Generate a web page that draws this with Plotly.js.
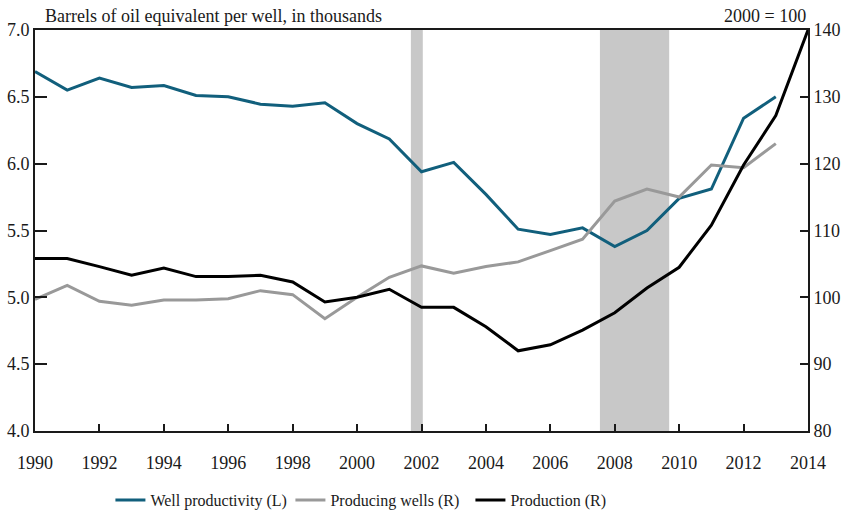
<!DOCTYPE html>
<html>
<head>
<meta charset="utf-8">
<script src="https://cdn.plot.ly/plotly-3.0.1.min.js"></script>
<style>html,body{margin:0;padding:0;background:#fff}#chart{width:856px;height:516px}</style>
</head>
<body>
<div id="chart"></div>
<script>
const years = [1990,1991,1992,1993,1994,1995,1996,1997,1998,1999,2000,2001,2002,2003,2004,2005,2006,2007,2008,2009,2010,2011,2012,2013,2014];
const wellProductivity = [6.69,6.55,6.64,6.57,6.585,6.51,6.50,6.445,6.43,6.455,6.30,6.185,5.94,6.01,5.77,5.51,5.47,5.52,5.38,5.50,5.74,5.81,6.34,6.50];
const producingWells = [99.7,101.8,99.4,98.8,99.6,99.6,99.8,101.0,100.4,96.8,100.0,103.0,104.7,103.6,104.6,105.3,107.0,108.7,114.4,116.2,115.0,119.8,119.4,123.0];
const production = [105.8,105.8,104.6,103.3,104.4,103.1,103.1,103.3,102.3,99.3,100.0,101.2,98.5,98.5,95.6,92.0,92.9,95.1,97.7,101.4,104.5,110.8,119.8,127.2,140.0];
const recessions = [[2001.67,2002.04],[2007.54,2009.69]];
const leftTicks = [4.0,4.5,5.0,5.5,6.0,6.5,7.0];
const rightTicks = [80,90,100,110,120,130,140];
const xTicks = [1990,1992,1994,1996,1998,2000,2002,2004,2006,2008,2010,2012,2014];

const font = "Liberation Serif, Times New Roman, serif";

const traces = [
  {x: years.slice(0, wellProductivity.length), y: wellProductivity, name: 'Well productivity (L)', type: 'scatter', mode: 'lines', yaxis: 'y', line: {color: '#115f7c', width: 3}},
  {x: years.slice(0, producingWells.length), y: producingWells, name: 'Producing wells (R)', type: 'scatter', mode: 'lines', yaxis: 'y2', line: {color: '#999999', width: 3}},
  {x: years.slice(0, production.length), y: production, name: 'Production (R)', type: 'scatter', mode: 'lines', yaxis: 'y2', line: {color: '#000000', width: 3}}
];

const shapes = recessions.map(r => ({type: 'rect', xref: 'x', yref: 'paper', x0: r[0], x1: r[1], y0: 0, y1: 1, fillcolor: '#c8c8c8', line: {width: 0}, layer: 'below'}));

const layout = {
  width: 856, height: 516,
  margin: {l: 35, r: 48, t: 30, b: 85},
  paper_bgcolor: '#fff', plot_bgcolor: '#fff',
  font: {family: font, size: 18, color: '#1a1a1a'},
  showlegend: true,
  legend: {orientation: 'h', xref: 'container', yref: 'container', x: 0.129, xanchor: 'left', y: 0.031, yanchor: 'middle', font: {family: font, size: 16}, entrywidth: 135, entrywidthmode: 'pixels', tracegroupgap: 0},
  xaxis: {range: [1990, 2014], tickvals: xTicks, ticktext: xTicks.map(String), ticks: 'inside', ticklen: 7, tickwidth: 2, tickcolor: '#1a1a1a', showline: true, linecolor: '#1a1a1a', linewidth: 2, mirror: true, showgrid: false, zeroline: false, ticklabelstandoff: 14, tickfont: {size: 18}, automargin: false},
  yaxis: {range: [4.0, 7.0], tickvals: leftTicks, ticktext: leftTicks.map(v => v.toFixed(1)), ticks: 'inside', ticklen: 12, tickwidth: 2, tickcolor: '#1a1a1a', showline: true, linecolor: '#1a1a1a', linewidth: 2, showgrid: false, zeroline: false, tickfont: {size: 18}, ticklabelstandoff: 0, automargin: false},
  yaxis2: {range: [80, 140], overlaying: 'y', side: 'right', tickvals: rightTicks, ticktext: rightTicks.map(String), ticks: 'inside', ticklen: 8, tickwidth: 2, tickcolor: '#1a1a1a', showline: true, linecolor: '#1a1a1a', linewidth: 2, showgrid: false, zeroline: false, tickfont: {size: 18}, automargin: false},
  shapes: shapes,
  annotations: [
    {text: 'Barrels of oil equivalent per well, in thousands', xref: 'paper', yref: 'paper', x: 0.01, y: 1, xanchor: 'left', yanchor: 'bottom', yshift: 2, showarrow: false, font: {family: font, size: 18}},
    {text: '2000 = 100', xref: 'paper', yref: 'paper', x: 1, y: 1, xanchor: 'right', yanchor: 'bottom', yshift: 2, showarrow: false, font: {family: font, size: 18}}
  ]
};

Plotly.newPlot('chart', traces, layout, {displayModeBar: false, staticPlot: true});
</script>
</body>
</html>
